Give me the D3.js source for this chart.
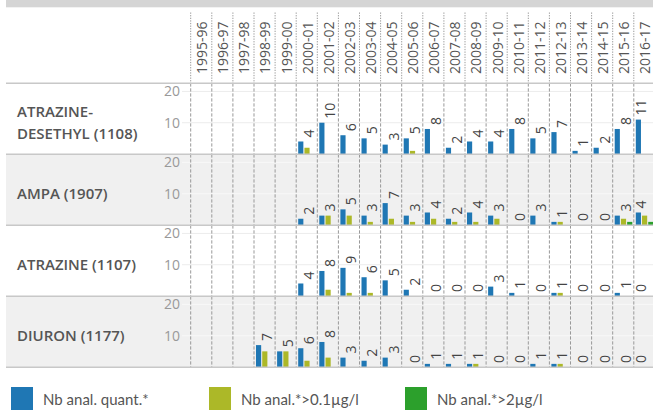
<!DOCTYPE html>
<html>
<head>
<meta charset="utf-8">
<script src="https://cdn.jsdelivr.net/npm/d3@7"></script>
<style>
  body { margin: 0; background: #fff; }
  svg { display: block; font-family: "Open Sans", Lato, sans-serif; }
</style>
</head>
<body>
<div id="chart"></div>
<script>
// seasons on the columns
const years = ["1995-96","1996-97","1997-98","1998-99","1999-00","2000-01","2001-02","2002-03","2003-04","2004-05","2005-06",
  "2006-07","2007-08","2008-09","2009-10","2010-11","2011-12","2012-13","2013-14","2014-15","2015-16","2016-17"];

const substances = ["ATRAZINE-DESETHYL (1108)", "AMPA (1907)", "ATRAZINE (1107)", "DIURON (1177)"];

const seriesNames = ["Nb anal. quant.*", "Nb anal.*>0.1µg/l", "Nb anal.*>2µg/l"];
const seriesColors = ["#1f77b4", "#acb828", "#2ca02c"];

const n = null;
// Nb anal. quant.*  (one row per substance)
const nbQuant = [
  [n,n,n,n,n,4,10,6,5,3,5,8,2,4,4,8,5,7,1,2,8,11],
  [n,n,n,n,n,2,3,5,3,7,3,4,2,4,3,0,3,1,0,0,3,4],
  [n,n,n,n,n,4,8,9,6,5,2,0,0,0,3,1,0,1,0,0,1,0],
  [n,n,n,7,5,6,8,3,2,3,0,1,1,1,0,0,1,1,0,0,0,0]
];
// Nb anal.*>0.1µg/l
const nbSup01 = [
  [n,n,n,n,n,2,0,0,0,0,1,0,0,0,0,0,0,0,0,0,0,0],
  [n,n,n,n,n,0,3,3,1,2,1,2,1,1,2,0,0,1,0,0,2,3],
  [n,n,n,n,n,0,2,1,1,0,0,0,0,0,0,0,0,1,0,0,0,0],
  [n,n,n,5,5,2,3,0,0,0,0,0,0,1,0,0,0,1,0,0,0,0]
];
// Nb anal.*>2µg/l
const nbSup2 = [
  [n,n,n,n,n,0,0,0,0,0,0,0,0,0,0,0,0,0,0,0,0,0],
  [n,n,n,n,n,0,0,0,0,0,0,0,0,0,0,0,0,0,0,0,1,1],
  [n,n,n,n,n,0,0,0,0,0,0,0,0,0,0,0,0,0,0,0,0,0],
  [n,n,n,0,0,0,0,0,0,0,0,0,0,0,0,0,0,0,0,0,0,0]
];

const yTicks = [10, 20];

const width = 653, height = 410;
const left = 6;
const chartLeft = 190.7, colW = 21.1;
const headerTop = 7.3, headerBottom = 83.3;
const panelH = 71;

const svg = d3.select("#chart").append("svg")
  .attr("width", width)
  .attr("height", height);

// column scale and sub-bar scale
const x = d3.scaleBand()
  .domain(years)
  .range([chartLeft, chartLeft + years.length * colW]);

const xSub = d3.scaleBand()
  .domain([0, 1, 2])
  .range([2, colW - 1.5])
  .paddingInner(0.17);

// top grey strip
svg.append("rect")
  .attr("x", left).attr("y", 0)
  .attr("width", width - left).attr("height", headerTop)
  .attr("fill", "#d5d5d5");

// panel backgrounds
substances.forEach((s, i) => {
  const top = headerBottom + i * panelH;
  svg.append("rect")
    .attr("x", left).attr("y", top)
    .attr("width", width - left).attr("height", panelH)
    .attr("fill", i % 2 === 1 ? "#f0f0f0" : "#fff");
});

// header year labels
svg.append("g").selectAll("text")
  .data(years)
  .join("text")
  .attr("transform", d => `translate(${x(d) + colW / 2 + 1},74) rotate(-90)`)
  .attr("dy", "0.35em")
  .attr("font-size", 14)
  .attr("fill", "#555")
  .text(d => d);

// vertical column dividers
const divs = years.map(d => x(d));
svg.append("g").selectAll("line")
  .data(divs)
  .join("line")
  .attr("x1", d => d).attr("x2", d => d)
  .attr("y1", 12.5).attr("y2", headerBottom)
  .attr("stroke", "#999")
  .attr("stroke-dasharray", "1.3,1.3");

substances.forEach((s, i) => {
  const top = headerBottom + i * panelH;
  const bottom = top + panelH;
  const y = d3.scaleLinear()
    .domain([0, 22.6])
    .range([bottom - 0.3, top]);

  const g = svg.append("g");

  // gridlines
  g.selectAll(".grid")
    .data(yTicks)
    .join("line")
    .attr("x1", 182).attr("x2", width)
    .attr("y1", d => y(d)).attr("y2", d => y(d))
    .attr("stroke", i % 2 === 1 ? "#f8f8f8" : "#ececec");

  // y tick labels
  g.selectAll(".tick")
    .data(yTicks)
    .join("text")
    .attr("x", 180)
    .attr("y", d => y(d))
    .attr("dy", "0.35em")
    .attr("text-anchor", "end")
    .attr("font-size", 14)
    .attr("fill", "#999")
    .text(d => d);

  // substance label
  const lines = s === "ATRAZINE-DESETHYL (1108)" ? ["ATRAZINE-", "DESETHYL (1108)"] : [s];
  const cy = top + panelH / 2 + 4;
  g.selectAll(".lab")
    .data(lines)
    .join("text")
    .attr("x", 17)
    .attr("y", (d, k) => cy + (k - (lines.length - 1) / 2) * 21.3)
    .attr("dy", "0.35em")
    .attr("font-size", 15)
    .attr("font-weight", 600)
    .attr("fill", "#555")
    .text(d => d);

  // dashed dividers
  g.selectAll(".div")
    .data(divs)
    .join("line")
    .attr("x1", d => d).attr("x2", d => d)
    .attr("y1", top).attr("y2", bottom)
    .attr("stroke", "#999")
    .attr("stroke-dasharray", "3.3,1.7");

  // bars
  const rows = [nbQuant[i], nbSup01[i], nbSup2[i]];
  const bars = [];
  years.forEach((yr, j) => {
    rows.forEach((r, k) => {
      if (r[j] != null && r[j] > 0) bars.push({ yr, k, v: r[j] });
    });
  });
  g.selectAll(".bar")
    .data(bars)
    .join("rect")
    .attr("x", d => x(d.yr) + xSub(d.k))
    .attr("width", xSub.bandwidth())
    .attr("y", d => y(d.v))
    .attr("height", d => y(0) - y(d.v))
    .attr("fill", d => seriesColors[d.k]);

  // value labels (count of quantified analyses)
  const labs = years.map((yr, j) => ({ yr, v: nbQuant[i][j] })).filter(d => d.v != null);
  g.selectAll(".val")
    .data(labs)
    .join("text")
    .attr("transform", d => `translate(${Math.min(x(d.yr) + colW / 2 + 2.5, 641)},${y(d.v) - 4}) rotate(-90)`)
    .attr("dy", "0.35em")
    .attr("font-size", 14)
    .attr("fill", "#444")
    .text(d => d.v);
});

// horizontal separators
const seps = d3.range(substances.length + 1).map(i => headerBottom + i * panelH);
svg.append("g").selectAll("line")
  .data(seps)
  .join("line")
  .attr("x1", left).attr("x2", width)
  .attr("y1", d => d).attr("y2", d => d)
  .attr("stroke", "#c8c8c8")
  .attr("stroke-width", 1.5);

// legend
const legend = svg.append("g").selectAll("g")
  .data(seriesNames)
  .join("g")
  .attr("transform", (d, i) => `translate(${[11, 209, 405][i]},387)`);

legend.append("rect")
  .attr("width", 22)
  .attr("height", 23)
  .attr("fill", (d, i) => seriesColors[i]);

legend.append("text")
  .attr("x", 32)
  .attr("y", 13)
  .attr("dy", "0.35em")
  .attr("font-family", "Lato, sans-serif")
  .attr("font-size", 15)
  .attr("fill", "#555")
  .text(d => d);
</script>
</body>
</html>
